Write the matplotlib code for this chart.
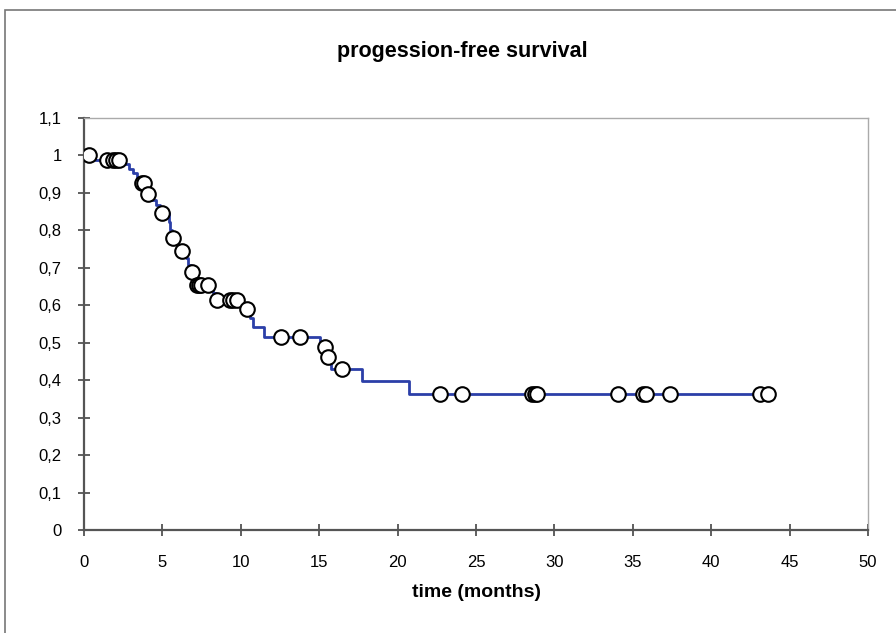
# coding:utf-8
# progression-free survival, Kaplan-Meier style step curve with censor marks
from matplotlib import pyplot as plt
from matplotlib.patches import Rectangle

plt.rcParams['font.family'] = ['Liberation Sans', 'DejaVu Sans']

# step curve: time (months) where survival drops, and survival after the drop
step_times = [0, 0.7, 2.6, 2.85, 3.1, 3.35, 3.55, 3.85, 3.95, 4.3, 4.6, 4.85,
              5.45, 5.5, 5.6, 5.95, 6.1, 6.5, 6.65, 6.8, 6.95, 7.1, 8.2, 8.4,
              10.1, 10.6, 10.8, 11.5, 15.05, 15.45, 15.75, 17.7, 20.7]
step_surv = [1.0, 0.988, 0.976, 0.964, 0.952, 0.940, 0.927, 0.912, 0.897, 0.882, 0.867, 0.846,
             0.822, 0.80, 0.78, 0.762, 0.745, 0.726, 0.708, 0.689, 0.672, 0.654, 0.633, 0.614,
             0.59, 0.566, 0.542, 0.515, 0.489, 0.462, 0.43, 0.397, 0.363]

# censored observations
censor_times = [0.3, 1.45, 1.85, 2.05, 2.25, 3.68, 3.8, 4.05, 4.95, 5.68, 6.25, 6.89,
                7.2, 7.33, 7.46, 7.9, 8.48, 9.3, 9.5, 9.75, 10.4, 12.56, 13.78,
                15.37, 15.56, 16.45, 22.7, 24.1, 28.6, 28.75, 28.9, 34.05, 35.65,
                35.85, 37.4, 43.1, 43.6]


def surv_at(t):
    s = step_surv[0]
    for st, sv in zip(step_times, step_surv):
        if st <= t:
            s = sv
    return s


censor_surv = [surv_at(t) for t in censor_times]

fig = plt.figure(figsize=(8.96, 6.33), dpi=100)
# outer frame like the spreadsheet chart area
fig.patches.append(Rectangle((5 / 896, -0.1), 1.0, 1 - 10 / 633 + 0.1,
                             transform=fig.transFigure, fill=False,
                             edgecolor='#777777', linewidth=1.2))

ax = fig.add_axes([84 / 896, 1 - 530 / 633, 784 / 896, 412 / 633])

xs = step_times + [censor_times[-1]]
ys = step_surv + [step_surv[-1]]
ax.step(xs, ys, where='post', color='#2B3FA8', linewidth=2.0, zorder=2)
ax.plot(censor_times, censor_surv, 'o', markersize=10.5, markerfacecolor='white',
        markeredgecolor='black', markeredgewidth=1.5, linestyle='none', zorder=3)

ax.set_xlim(0, 50)
ax.set_ylim(0, 1.1)
ax.set_xticks(range(0, 51, 5))
yt = [i / 10 for i in range(12)]
ax.set_yticks(yt)
ax.set_yticklabels(['0' if v == 0 else ('1' if v == 1 else ('%.1f' % v).replace('.', ',')) for v in yt])

ax.tick_params(direction='inout', length=8, width=1.2, color='#444444',
               labelsize=12)
ax.tick_params(axis='y', pad=12)
ax.tick_params(axis='x', pad=14)
for side in ['left', 'bottom']:
    ax.spines[side].set_color('#555555')
    ax.spines[side].set_linewidth(1.6)
for side in ['top', 'right']:
    ax.spines[side].set_color('#aaaaaa')
    ax.spines[side].set_linewidth(1.0)

ax.set_xlabel('time (months)', fontsize=14, fontweight='bold', labelpad=10)
fig.text(462 / 896, 1 - 52 / 633, 'progession-free survival', fontsize=15.5,
         fontweight='bold', ha='center', va='center')

plt.savefig('out.png', dpi=100)
